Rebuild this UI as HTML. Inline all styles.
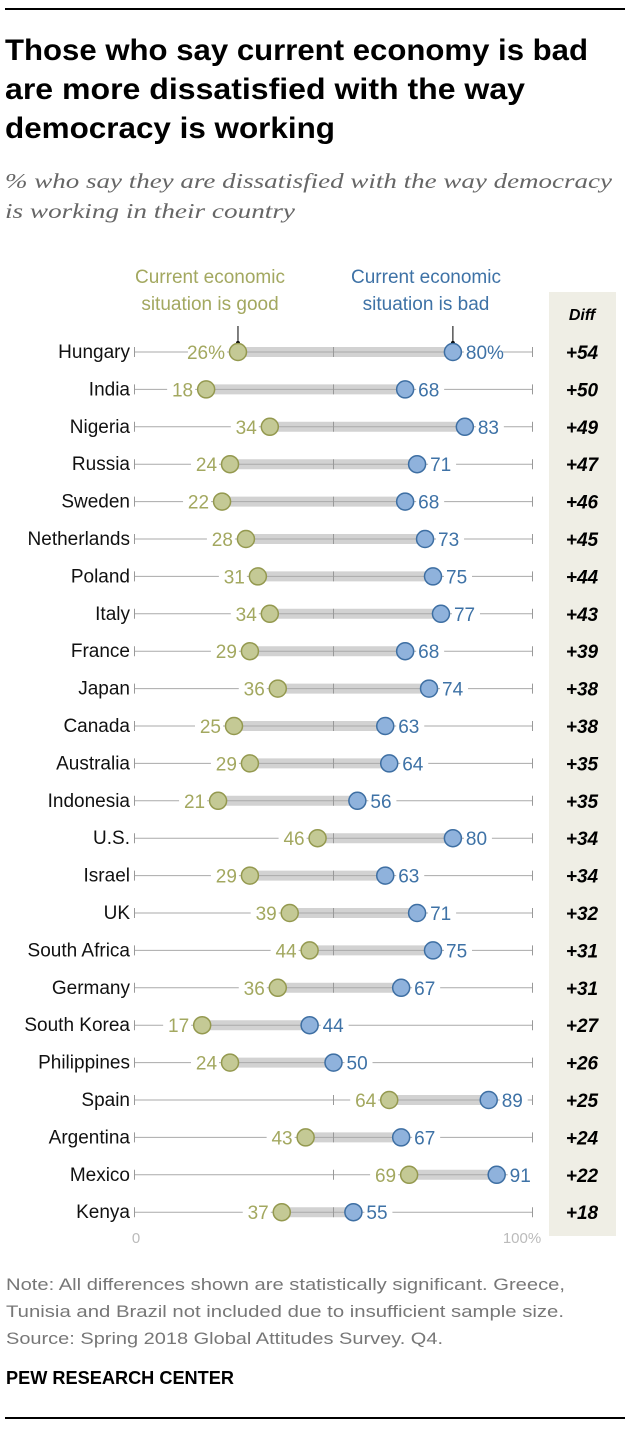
<!DOCTYPE html>
<html><head><meta charset="utf-8"><style>
body{margin:0;background:#fff}
svg{display:block}
text{font-family:"Liberation Sans",sans-serif}
</style></head><body>
<svg id="chart" width="630" height="1430" viewBox="0 0 630 1430" xmlns="http://www.w3.org/2000/svg">
<line x1="5" y1="9" x2="625" y2="9" stroke="#000" stroke-width="2"/>
<g font-weight="bold" font-size="30" fill="#000">
<text x="5" y="60" textLength="583" lengthAdjust="spacingAndGlyphs">Those who say current economy is bad</text>
<text x="5" y="99" textLength="520" lengthAdjust="spacingAndGlyphs">are more dissatisfied with the way</text>
<text x="5" y="138" textLength="330" lengthAdjust="spacingAndGlyphs">democracy is working</text>
</g>
<g font-size="21" font-style="italic" fill="#666">
<text x="5" y="188" textLength="607" lengthAdjust="spacingAndGlyphs" style="font-family:'Liberation Serif',serif">% who say they are dissatisfied with the way democracy</text>
<text x="5" y="218" textLength="290" lengthAdjust="spacingAndGlyphs" style="font-family:'Liberation Serif',serif">is working in their country</text>
</g>
<rect x="549" y="292" width="67" height="944" fill="#efeee5"/>
<text x="582" y="320" text-anchor="middle" font-size="16" font-weight="bold" font-style="italic">Diff</text>
<g fill="#a3a860" font-size="19" text-anchor="middle">
<text x="210" y="283">Current economic</text><text x="210" y="310">situation is good</text></g>
<g fill="#3e72a6" font-size="19" text-anchor="middle">
<text x="426" y="283">Current economic</text><text x="426" y="310">situation is bad</text></g>
<g id="rows"></g>
<text x="136" y="1243" text-anchor="middle" font-size="15" fill="#bbb">0</text>
<text x="522" y="1243" text-anchor="middle" font-size="15" fill="#bbb">100%</text>
<g font-size="17" fill="#777">
<text x="6" y="1290" textLength="559" lengthAdjust="spacingAndGlyphs">Note: All differences shown are statistically significant. Greece,</text>
<text x="6" y="1317" textLength="558" lengthAdjust="spacingAndGlyphs">Tunisia and Brazil not included due to insufficient sample size.</text>
<text x="6" y="1344" textLength="437" lengthAdjust="spacingAndGlyphs">Source: Spring 2018 Global Attitudes Survey. Q4.</text>
</g>
<text x="6" y="1384" font-size="18" font-weight="bold" textLength="228" lengthAdjust="spacingAndGlyphs">PEW RESEARCH CENTER</text>
<line x1="5" y1="1418" x2="625" y2="1418" stroke="#000" stroke-width="2"/>
</svg>
<script>
const countries=["Hungary","India","Nigeria","Russia","Sweden","Netherlands","Poland","Italy","France","Japan","Canada","Australia","Indonesia","U.S.","Israel","UK","South Africa","Germany","South Korea","Philippines","Spain","Argentina","Mexico","Kenya"];
const goodVals=[26,18,34,24,22,28,31,34,29,36,25,29,21,46,29,39,44,36,17,24,64,43,69,37];
const badVals=[80,68,83,71,68,73,75,77,68,74,63,64,56,80,63,71,75,67,44,50,89,67,91,55];
const diffLabels=["+54","+50","+49","+47","+46","+45","+44","+43","+39","+38","+38","+35","+35","+34","+34","+32","+31","+31","+27","+26","+25","+24","+22","+18"];
const NS="http://www.w3.org/2000/svg";
const x=v=>134.5+3.98*v;
const y=i=>352+i*37.4;
const g=document.getElementById('rows');
function mk(tag,attrs,parent){const e=document.createElementNS(NS,tag);for(const k in attrs)e.setAttribute(k,attrs[k]);(parent||g).appendChild(e);return e;}
countries.forEach((c,i)=>{
  const yy=y(i);
  const row=mk('g',{});
  
  
  mk('line',{x1:x(0),y1:yy,x2:x(100),y2:yy,stroke:'#aaa','stroke-width':1},row);
  [0,100].forEach(t=>mk('line',{x1:x(t),y1:yy-5,x2:x(t),y2:yy+5,stroke:'#999','stroke-width':1},row));
  const band=mk('line',{x1:x(goodVals[i]),y1:yy,x2:x(badVals[i]),y2:yy,stroke:'#d2d2d2','stroke-width':10},row);
  
  
  mk('line',{x1:x(goodVals[i]),y1:yy,x2:x(badVals[i]),y2:yy,stroke:'#aaa','stroke-width':1},row);
  mk('line',{x1:x(50),y1:yy-5,x2:x(50),y2:yy+5,stroke:'#999','stroke-width':1},row);
  const suf=i===0?'%':'';
  const gl=goodVals[i]+suf, bl=badVals[i]+suf;
  const gw=gl.length*11+6, bw=bl.length*11+6;
  mk('rect',{x:x(goodVals[i])-11-gw,y:yy-10,width:gw,height:20,fill:'#fff'},row);
  mk('rect',{x:x(badVals[i])+11,y:yy-10,width:bw,height:20,fill:'#fff'},row);
  const lab=mk('text',{x:130,y:yy+6,'text-anchor':'end','font-size':19,fill:'#111'},row);lab.textContent=c;
  
  
  const gt=mk('text',{x:x(goodVals[i])-13,y:yy+7,'text-anchor':'end','font-size':19,fill:'#a3a860'},row);gt.textContent=gl;
  
  
  const bt=mk('text',{x:x(badVals[i])+13,y:yy+7,'font-size':19,fill:'#3e72a6'},row);bt.textContent=bl;
  
  
  if(i===0){
    mk('line',{x1:x(goodVals[i]),y1:yy-26,x2:x(goodVals[i]),y2:yy-9,stroke:'#000','stroke-width':1},row);
    mk('circle',{cx:x(goodVals[i]),cy:yy-9,r:2,fill:'#000'},row);
    mk('line',{x1:x(badVals[i]),y1:yy-26,x2:x(badVals[i]),y2:yy-9,stroke:'#000','stroke-width':1},row);
    mk('circle',{cx:x(badVals[i]),cy:yy-9,r:2,fill:'#000'},row);
  }
  const gd=mk('circle',{cx:x(goodVals[i]),cy:yy,r:8.5,fill:'#c4c995',stroke:'#94994f','stroke-width':1.5},row);
  
  
  const bd=mk('circle',{cx:x(badVals[i]),cy:yy,r:8.5,fill:'#8fb2dc',stroke:'#3e6fa3','stroke-width':1.5},row);
  
  
  const dt=mk('text',{x:582,y:yy+7,'text-anchor':'middle','font-size':19,'font-weight':'bold','font-style':'italic',fill:'#000'},row);dt.textContent=diffLabels[i];
  
  
});
</script>
</body></html>
